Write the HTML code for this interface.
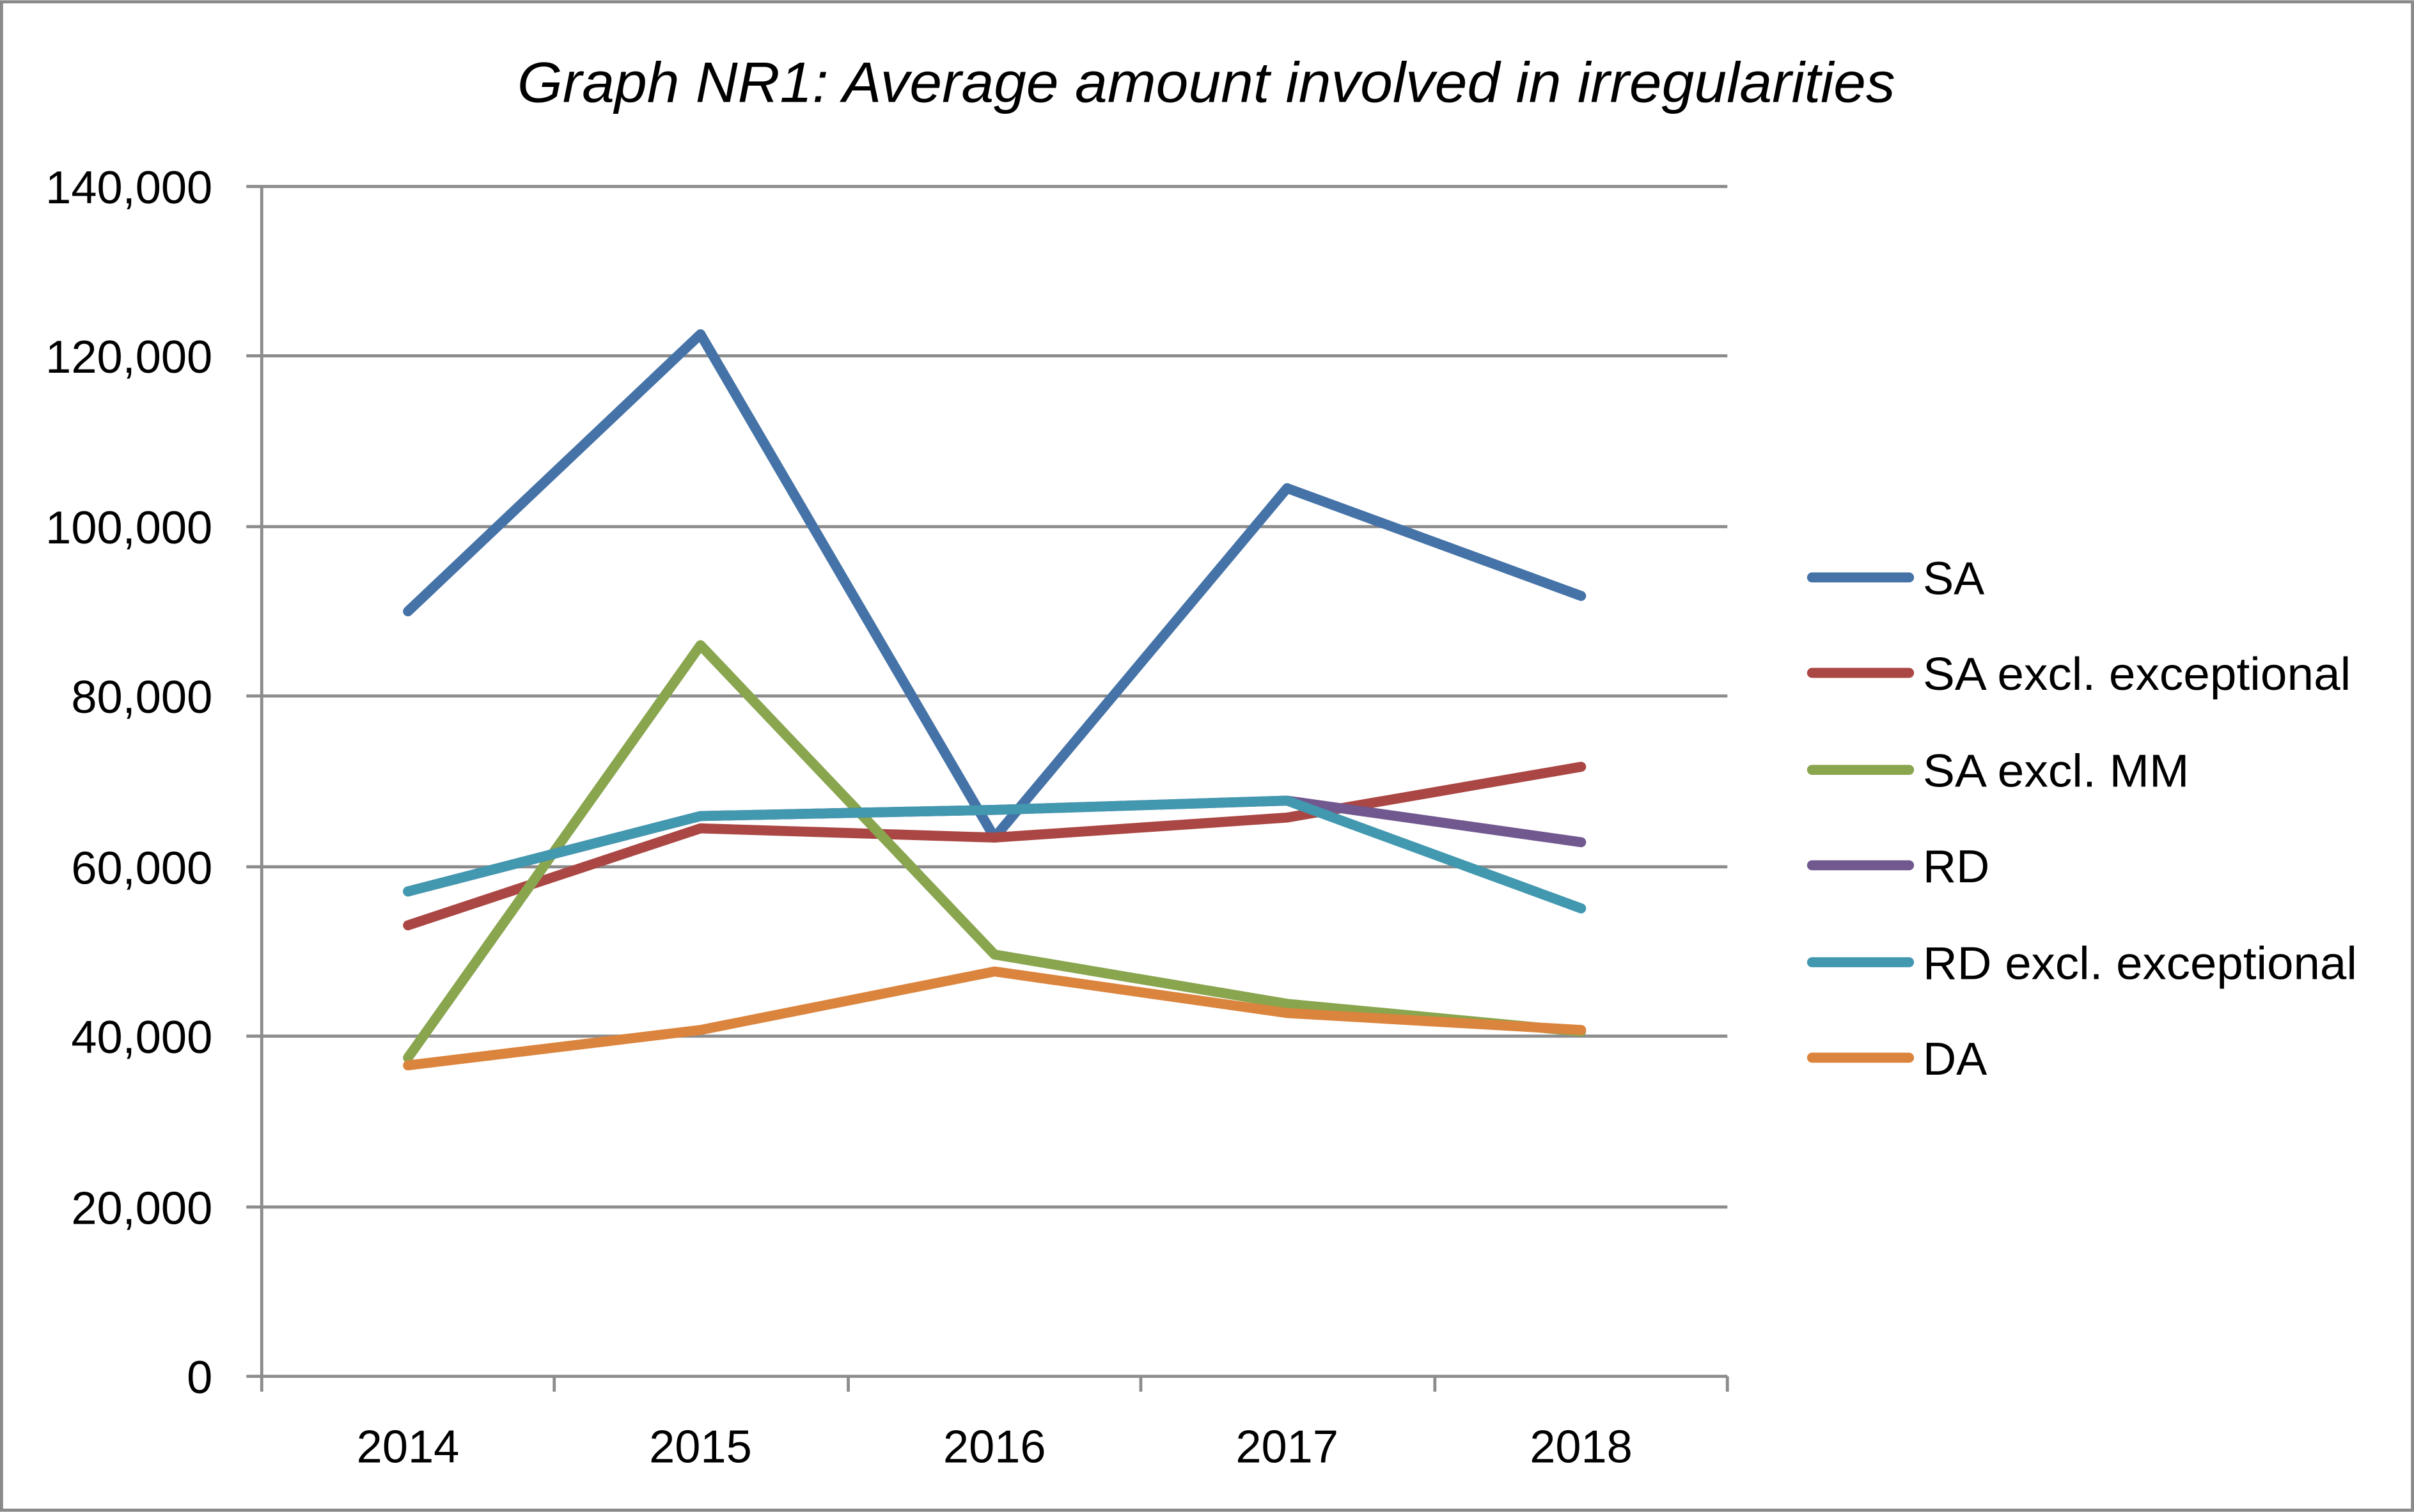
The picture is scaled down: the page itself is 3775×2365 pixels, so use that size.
<!DOCTYPE html>
<html><head><meta charset="utf-8"><style>html,body{margin:0;padding:0;background:#fff}svg{display:block}</style></head>
<body>
<svg width="3775" height="2365" viewBox="0 0 1568 982" xmlns="http://www.w3.org/2000/svg" font-family="Liberation Sans, sans-serif">
<rect x="1" y="1" width="1566" height="980" fill="#fff" stroke="#8a8a8a" stroke-width="2"/>
<text x="336" y="66" font-size="37" font-style="italic" textLength="895" lengthAdjust="spacingAndGlyphs" fill="#000">Graph NR1: Average amount involved in irregularities</text>
<g stroke="#8c8c8c" stroke-width="2">
<line x1="160" y1="121" x2="1122" y2="121"/>
<line x1="160" y1="231" x2="1122" y2="231"/>
<line x1="160" y1="342" x2="1122" y2="342"/>
<line x1="160" y1="452" x2="1122" y2="452"/>
<line x1="160" y1="563" x2="1122" y2="563"/>
<line x1="160" y1="673" x2="1122" y2="673"/>
<line x1="160" y1="784" x2="1122" y2="784"/>
<line x1="160" y1="894" x2="1122" y2="894"/>
<line x1="170" y1="121" x2="170" y2="904"/>
<line x1="360" y1="894" x2="360" y2="904"/>
<line x1="551" y1="894" x2="551" y2="904"/>
<line x1="741" y1="894" x2="741" y2="904"/>
<line x1="932" y1="894" x2="932" y2="904"/>
<line x1="1122" y1="894" x2="1122" y2="904"/>
</g>
<g font-size="30" text-anchor="end" fill="#000">
<text x="138" y="132">140,000</text>
<text x="138" y="242">120,000</text>
<text x="138" y="353">100,000</text>
<text x="138" y="463">80,000</text>
<text x="138" y="574">60,000</text>
<text x="138" y="684">40,000</text>
<text x="138" y="795">20,000</text>
<text x="138" y="905">0</text>
</g>
<g font-size="30" text-anchor="middle" fill="#000">
<text x="265" y="950">2014</text>
<text x="455" y="950">2015</text>
<text x="646" y="950">2016</text>
<text x="836" y="950">2017</text>
<text x="1027" y="950">2018</text>
</g>
<g fill="none" stroke-width="6.5" stroke-linejoin="round" stroke-linecap="round">
<polyline stroke="#4573A7" points="265,397 455,217 646,544 836,317 1027,387"/>
<polyline stroke="#AA4643" points="265,601 455,538 646,544 836,531 1027,498"/>
<polyline stroke="#89A54E" points="265,687 455,419 646,620 836,652 1027,670"/>
<polyline stroke="#71588F" points="265,579 455,530 646,526 836,520 1027,547"/>
<polyline stroke="#4198AF" points="265,579 455,530 646,526 836,520 1027,590"/>
<polyline stroke="#DB843D" points="265,692 455,669 646,631 836,658 1027,669"/>
</g>
<g stroke-width="6.5" stroke-linecap="round">
<line x1="1177" y1="375" x2="1240" y2="375" stroke="#4573A7"/>
<line x1="1177" y1="437" x2="1240" y2="437" stroke="#AA4643"/>
<line x1="1177" y1="500" x2="1240" y2="500" stroke="#89A54E"/>
<line x1="1177" y1="562" x2="1240" y2="562" stroke="#71588F"/>
<line x1="1177" y1="625" x2="1240" y2="625" stroke="#4198AF"/>
<line x1="1177" y1="687" x2="1240" y2="687" stroke="#DB843D"/>
</g>
<g font-size="30" fill="#000">
<text x="1249" y="386">SA</text>
<text x="1249" y="448" textLength="278" lengthAdjust="spacingAndGlyphs">SA excl. exceptional</text>
<text x="1249" y="511" textLength="173" lengthAdjust="spacingAndGlyphs">SA excl. MM</text>
<text x="1249" y="573">RD</text>
<text x="1249" y="636" textLength="282" lengthAdjust="spacingAndGlyphs">RD excl. exceptional</text>
<text x="1249" y="698">DA</text>
</g>
</svg>
</body></html>
